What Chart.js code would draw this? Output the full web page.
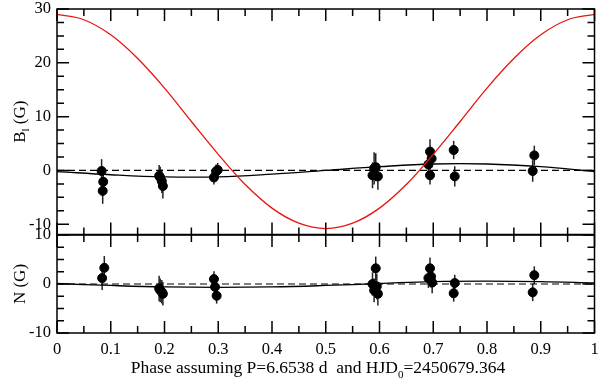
<!DOCTYPE html>
<html lang="en">
<head>
    <meta charset="UTF-8">
    <title>Phase curves B_l and N</title>
    <script src="https://cdn.jsdelivr.net/npm/chart.js"></script>
    <style>
        body { margin: 0; background: white; }
        #wrap { position: relative; width: 600px; height: 386px; overflow: hidden; }
        canvas { position: absolute; left: 0; }
        #topChart { top: 0; }
        #botChart { top: 220px; }
    </style>
</head>
<body>
<div id="wrap">
    <canvas id="topChart" width="600" height="240"></canvas>
    <canvas id="botChart" width="600" height="166"></canvas>
</div>
<script>
// --- longitudinal field B_l (top panel) ---
const phaseB = [0.083, 0.086, 0.085, 0.190, 0.192, 0.195, 0.197, 0.292, 0.296, 0.299,
                0.587, 0.590, 0.593, 0.597, 0.691, 0.694, 0.697, 0.694, 0.738, 0.740, 0.885, 0.888];
const valB   = [-0.1, -2.1, -3.8, -1.0, -1.3, -2.0, -2.9, -1.3, -0.2, 0.1,
                -0.9, 0.4, 0.6, -1.1, 1.1, 3.5, 2.2, -0.9, 3.8, -1.1, -0.1, 2.8];
const errB   = [2.2, 2.2, 2.4, 2.0, 2.0, 2.2, 2.3, 1.3, 1.3, 1.3,
                2.4, 3.0, 2.6, 2.5, 1.7, 2.3, 1.7, 1.7, 1.7, 1.9, 2.0, 1.8];

// --- null field N (bottom panel) ---
const phaseN = [0.084, 0.088, 0.190, 0.192, 0.195, 0.197, 0.292, 0.294, 0.297,
                0.587, 0.590, 0.593, 0.595, 0.597, 0.691, 0.694, 0.696, 0.698, 0.738, 0.740, 0.885, 0.888];
const valN   = [1.2, 3.3, -0.9, -1.3, -1.6, -2.0, 1.0, -0.6, -2.4,
                0.0, -1.3, 3.2, -0.5, -2.0, 1.2, 3.2, 1.5, 0.3, -1.9, 0.2, -1.7, 1.8];
const errN   = [2.4, 2.4, 2.6, 2.4, 2.4, 2.4, 1.6, 1.6, 1.6,
                2.4, 2.4, 2.4, 2.6, 2.4, 2.0, 2.2, 2.2, 2.2, 1.7, 1.7, 1.8, 1.8];

// model curves
const curvePhase = [0, 0.05, 0.1, 0.15, 0.2, 0.25, 0.3, 0.35, 0.4, 0.45, 0.5,
                    0.55, 0.6, 0.65, 0.7, 0.75, 0.8, 0.85, 0.9, 0.95, 1];
const redCurve   = [29.0, 28.0, 25.2, 20.8, 15.3, 9.1, 3.0, -2.6, -7.0, -9.8, -10.8,
                    -9.8, -7.0, -2.6, 3.0, 9.1, 15.3, 20.8, 25.2, 28.0, 29.0];
const fitPhase = [0, 0.1, 0.2, 0.3, 0.4, 0.5, 0.6, 0.7, 0.8, 0.9, 1];
const fitB     = [-0.2, -0.8, -1.2, -1.2, -0.7, 0.0, 0.7, 1.2, 1.2, 0.7, -0.2];
const fitN     = [0.1, -0.3, -0.6, -0.7, -0.6, -0.3, 0.1, 0.5, 0.6, 0.5, 0.2];

const xTicks  = [0, 0.1, 0.2, 0.3, 0.4, 0.5, 0.6, 0.7, 0.8, 0.9, 1];
const yTicksB = [-10, 0, 10, 20, 30];
const yTicksN = [-10, 0, 10];

const serif = '"Liberation Serif", "DejaVu Serif", serif';
const pts = (xs, ys) => xs.map((x, i) => ({ x: x, y: ys[i] }));

// frame + inward ticks on all four sides, and error bars
const framePlugin = {
    id: 'frame',
    beforeDatasetsDraw(chart) {
        const ctx = chart.ctx, xs = chart.scales.x, ys = chart.scales.y;
        const errs = chart.options.plugins.frame.errors;
        const ds = chart.data.datasets[chart.data.datasets.length - 1];
        ctx.save();
        ctx.strokeStyle = '#222';
        ctx.lineWidth = 1.5;
        ds.data.forEach((p, i) => {
            const px = xs.getPixelForValue(p.x);
            ctx.beginPath();
            ctx.moveTo(px, ys.getPixelForValue(p.y - errs[i]));
            ctx.lineTo(px, ys.getPixelForValue(p.y + errs[i]));
            ctx.stroke();
        });
        ctx.restore();
    },
    afterDraw(chart) {
        const ctx = chart.ctx, a = chart.chartArea;
        const xs = chart.scales.x, ys = chart.scales.y;
        ctx.save();
        ctx.strokeStyle = '#000';
        ctx.lineWidth = 1.5;
        ctx.strokeRect(a.left, a.top, a.right - a.left, a.bottom - a.top);
        ctx.beginPath();
        for (let k = 0; k <= 20; k++) {
            const v = k * 0.05;
            const len = k % 2 === 0 ? 12 : 7;
            const px = xs.getPixelForValue(v);
            ctx.moveTo(px, a.bottom); ctx.lineTo(px, a.bottom - len);
            ctx.moveTo(px, a.top); ctx.lineTo(px, a.top + len);
        }
        for (let v = Math.ceil(ys.min / 2.5) * 2.5; v <= ys.max + 1e-6; v += 2.5) {
            const len = Math.abs(v % 10) < 1e-6 ? 12 : 7;
            const py = ys.getPixelForValue(v);
            ctx.moveTo(a.left, py); ctx.lineTo(a.left + len, py);
            ctx.moveTo(a.right, py); ctx.lineTo(a.right - len, py);
        }
        ctx.stroke();

        // y title with optional subscript
        const t = chart.options.plugins.frame.ytitle;
        ctx.translate(19, (a.top + a.bottom) / 2);
        ctx.rotate(-Math.PI / 2);
        ctx.fillStyle = '#000';
        ctx.textBaseline = 'alphabetic';
        ctx.font = '17px ' + serif;
        const subFont = '11px ' + serif;
        let w = ctx.measureText(t[0]).width + ctx.measureText(t[2]).width;
        ctx.font = subFont; w += ctx.measureText(t[1]).width;
        let x0 = -w / 2;
        ctx.font = '17px ' + serif; ctx.fillText(t[0], x0, 6); x0 += ctx.measureText(t[0]).width;
        ctx.font = subFont; ctx.fillText(t[1], x0, 10); x0 += ctx.measureText(t[1]).width;
        ctx.font = '17px ' + serif; ctx.fillText(t[2], x0, 6);
        ctx.restore();

        if (chart.options.plugins.frame.xtitle) {
            ctx.save();
            ctx.fillStyle = '#000';
            const p1 = 'Phase assuming P=6.6538 d  and HJD', p2 = '0', p3 = '=2450679.364';
            const big = '17.5px ' + serif;
            ctx.font = big;
            let tw = ctx.measureText(p1).width + ctx.measureText(p3).width;
            ctx.font = subFont; tw += ctx.measureText(p2).width;
            let xx = 318 - tw / 2;
            const base = 373 - 220;
            ctx.font = big; ctx.fillText(p1, xx, base); xx += ctx.measureText(p1).width;
            ctx.font = subFont; ctx.fillText(p2, xx, base + 5); xx += ctx.measureText(p2).width;
            ctx.font = big; ctx.fillText(p3, xx, base);
            ctx.restore();
        }
    }
};

function panel(id, opts) {
    const datasets = [];
    if (opts.red) {
        datasets.push({ data: pts(curvePhase, opts.red), borderColor: '#e8140f', borderWidth: 1.3,
                        pointRadius: 0, showLine: true, tension: 0.4, fill: false });
    }
    datasets.push({ data: pts([0, 1], [0, 0]), borderColor: '#000', borderWidth: 1.2,
                    borderDash: [7, 4], pointRadius: 0, showLine: true });
    datasets.push({ data: pts(fitPhase, opts.fit), borderColor: '#000', borderWidth: 1.3,
                    pointRadius: 0, showLine: true, tension: 0.4 });
    datasets.push({ data: pts(opts.phase, opts.vals), backgroundColor: '#000', borderColor: '#000',
                    pointRadius: 4.5, showLine: false });

    return new Chart(document.getElementById(id), {
        type: 'scatter',
        data: { datasets: datasets },
        plugins: [framePlugin],
        options: {
            responsive: false,
            animation: false,
            layout: { padding: opts.padding },
            plugins: {
                legend: { display: false },
                tooltip: { enabled: false },
                frame: { errors: opts.errs, ytitle: opts.ytitle, xtitle: opts.showX }
            },
            scales: {
                x: {
                    type: 'linear', min: 0, max: 1,
                    display: opts.showX,
                    grid: { display: false, drawTicks: false },
                    border: { display: false },
                    afterBuildTicks: s => { s.ticks = xTicks.map(v => ({ value: v })); },
                    afterFit: s => {
                        s.height = opts.showX ? 53 : 0;
                        s.paddingLeft = 0;
                        s.paddingRight = 0;
                    },
                    ticks: {
                        padding: 7, color: '#000', maxRotation: 0, autoSkip: false,
                        font: { family: serif, size: 16.5 },
                        callback: v => String(+v.toFixed(1))
                    }
                },
                y: {
                    type: 'linear', min: opts.ymin, max: opts.ymax,
                    grid: { display: false, drawTicks: false },
                    border: { display: false },
                    afterBuildTicks: s => { s.ticks = opts.yTicks.map(v => ({ value: v })); },
                    afterFit: s => { s.width = 57; s.paddingTop = 0; s.paddingBottom = 0; },
                    ticks: {
                        padding: 6, color: '#000', autoSkip: false,
                        font: { family: serif, size: 16.5 }
                    }
                }
            }
        }
    });
}

panel('topChart', {
    red: redCurve, fit: fitB, phase: phaseB, vals: valB, errs: errB,
    ymin: -11.9, ymax: 30, yTicks: yTicksB, ytitle: ['B', 'l', ' (G)'],
    showX: false, padding: { top: 9, bottom: 5, right: 3, left: 0 }
});
panel('botChart', {
    fit: fitN, phase: phaseN, vals: valN, errs: errN,
    ymin: -10, ymax: 10, yTicks: yTicksN, ytitle: ['N (G)', '', ''],
    showX: true, padding: { top: 15, bottom: 0, right: 3, left: 0 }
});
</script>
</body>
</html>
